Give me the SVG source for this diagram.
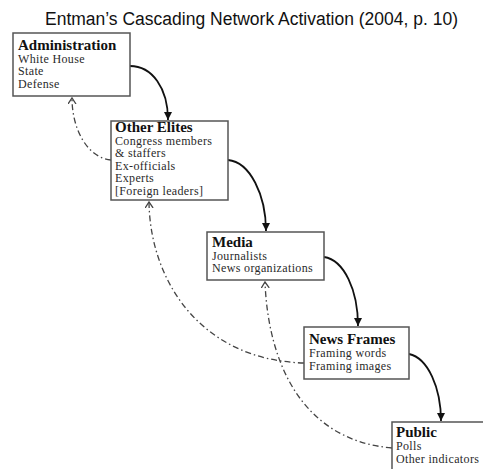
<svg xmlns="http://www.w3.org/2000/svg" width="483" height="469" viewBox="0 0 483 469">
<style>
.box{fill:#fff;stroke:#555;stroke-width:1.5}
.hd{font-family:"Liberation Serif","Times New Roman",serif;font-weight:bold;font-size:15px;fill:#111}
.it{font-family:"Liberation Serif","Times New Roman",serif;font-size:12px;letter-spacing:0.35px;fill:#2a2a2a}
.solid{fill:none;stroke:#111;stroke-width:1.8}
.dash{fill:none;stroke:#444;stroke-width:1.3;stroke-dasharray:6 3 1.5 3}
</style>
<defs>
<marker id="ah" markerWidth="10" markerHeight="10" refX="8" refY="4" orient="auto" markerUnits="userSpaceOnUse">
<path d="M0,0 L8,4 L0,8 z" fill="#111"/>
</marker>
<marker id="oh" markerWidth="10" markerHeight="10" refX="6" refY="4" orient="auto" markerUnits="userSpaceOnUse">
<path d="M0,0 L6,4 L0,8" fill="none" stroke="#444" stroke-width="1.3"/>
</marker>
</defs>
<rect width="483" height="469" fill="#fff"/>
<text x="45" y="25" font-family="'Liberation Sans',Arial,sans-serif" font-size="18" fill="#111" textLength="413" lengthAdjust="spacingAndGlyphs">Entman’s Cascading Network Activation (2004, p. 10)</text>
<g id="connectors">
<path class="solid" d="M130 66 C152 66,168 88,168 120" marker-end="url(#ah)"/>
<path class="solid" d="M228 160 C250 162,266 195,266 231" marker-end="url(#ah)"/>
<path class="solid" d="M324 257 C344 260,358 290,358 326" marker-end="url(#ah)"/>
<path class="solid" d="M409 354 C428 358,441 388,441 421" marker-end="url(#ah)"/>
<path class="dash" d="M111 160 C88 158,72 130,72 98" marker-end="url(#oh)"/>
<path class="dash" d="M304 363 C200 360,150 280,149 202" marker-end="url(#oh)"/>
<path class="dash" d="M392 448 C300 440,268 360,265 282" marker-end="url(#oh)"/>
</g>
<g id="administration">
<rect class="box" x="13" y="33" width="117" height="63"/>
<text class="hd" x="18" y="50">Administration</text>
<text class="it" x="18" y="63">White House</text>
<text class="it" x="18" y="75">State</text>
<text class="it" x="18" y="88">Defense</text>
</g>
<g id="other-elites">
<rect class="box" x="111" y="121" width="117" height="79"/>
<text class="hd" x="115" y="132">Other Elites</text>
<text class="it" x="115" y="145">Congress members</text>
<text class="it" x="115" y="157">&amp; staffers</text>
<text class="it" x="115" y="170">Ex-officials</text>
<text class="it" x="115" y="182">Experts</text>
<text class="it" x="115" y="195">[Foreign leaders]</text>
</g>
<g id="media">
<rect class="box" x="207" y="232" width="117" height="48"/>
<text class="hd" x="212" y="247">Media</text>
<text class="it" x="212" y="260">Journalists</text>
<text class="it" x="212" y="272">News organizations</text>
</g>
<g id="news-frames">
<rect class="box" x="304" y="327" width="105" height="52"/>
<text class="hd" x="309" y="344">News Frames</text>
<text class="it" x="309" y="357">Framing words</text>
<text class="it" x="309" y="370">Framing images</text>
</g>
<g id="public">
<rect class="box" x="392" y="422" width="100" height="60"/>
<text class="hd" x="396" y="437">Public</text>
<text class="it" x="396" y="450">Polls</text>
<text class="it" x="396" y="463">Other indicators</text>
</g>
</svg>
